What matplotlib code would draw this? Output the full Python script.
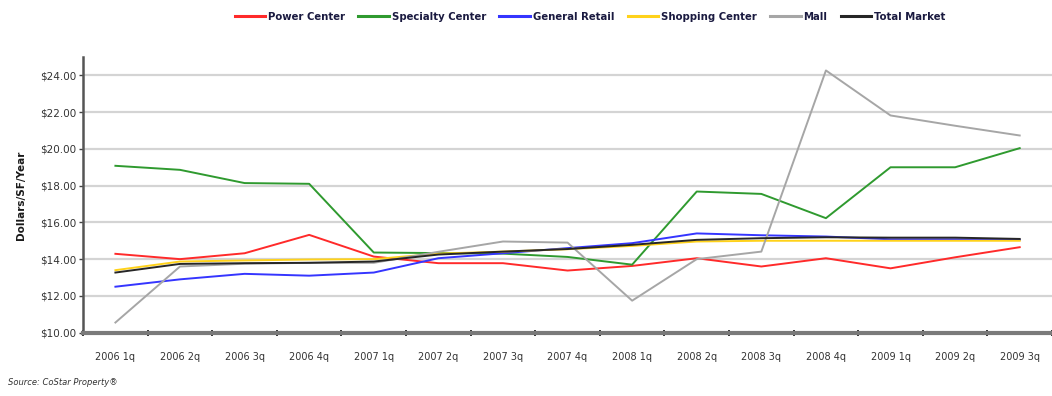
import matplotlib.pyplot as plt
from matplotlib.ticker import FuncFormatter

quarters = ['2006 1q', '2006 2q', '2006 3q', '2006 4q', '2007 1q', '2007 2q', '2007 3q',
            '2007 4q', '2008 1q', '2008 2q', '2008 3q', '2008 4q', '2009 1q', '2009 2q', '2009 3q']

power_center = [14.29, 14.00, 14.32, 15.32, 14.14, 13.78, 13.78, 13.38, 13.63, 14.05,
                13.60, 14.05, 13.50, 14.10, 14.65]
specialty_center = [19.08, 18.86, 18.14, 18.10, 14.36, 14.33, 14.30, 14.12, 13.70, 17.68,
                    17.55, 16.23, 19.00, 19.00, 20.04]
general_retail = [12.50, 12.90, 13.20, 13.10, 13.27, 14.05, 14.32, 14.60, 14.87, 15.40,
                  15.30, 15.23, 15.08, 15.08, 15.05]
shopping_center = [13.40, 13.87, 13.93, 13.98, 14.00, 14.30, 14.41, 14.54, 14.72, 14.96,
                   15.00, 15.00, 15.00, 15.00, 15.00]
mall = [10.55, 13.60, 13.75, 13.80, 13.80, 14.40, 14.96, 14.90, 11.74, 14.00,
        14.41, 24.27, 21.82, 21.26, 20.73]
total_market = [13.27, 13.74, 13.78, 13.80, 13.87, 14.25, 14.41, 14.55, 14.78, 15.05,
                15.14, 15.19, 15.17, 15.17, 15.10]

series = [
    ('Power Center', power_center, '#ff2a2a'),
    ('Specialty Center', specialty_center, '#2f9a2f'),
    ('General Retail', general_retail, '#3535ff'),
    ('Shopping Center', shopping_center, '#ffd21a'),
    ('Mall', mall, '#a6a6a6'),
    ('Total Market', total_market, '#262626'),
]

fig = plt.figure(figsize=(10.52, 3.96), dpi=100)
ax = fig.add_axes([0.079, 0.16, 0.921, 0.696])

x = list(range(len(quarters)))
for name, vals, color in series:
    ax.plot(x, vals, color=color, lw=1.4, label=name, solid_joinstyle='round')

ax.set_ylim(10, 25)
ax.set_xlim(-0.5, 14.37)
ax.set_yticks([10, 12, 14, 16, 18, 20, 22, 24])
ax.yaxis.set_major_formatter(FuncFormatter(lambda v, p: f'${v:.2f}'))
# category boundaries get the tick marks, centres get the labels
ax.set_xticks([i + 0.5 for i in range(-1, 15)], minor=False)
ax.set_xticklabels([])
ax.set_xticks(x, minor=True)
ax.set_xticklabels(quarters, minor=True)
ax.tick_params(axis='x', which='major', length=5, width=1.3, color='#222222',
               direction='inout')
ax.tick_params(axis='x', which='minor', length=0, pad=14, labelsize=7, labelcolor='#333333')
ax.tick_params(axis='y', length=3, width=1, color='#444444', labelsize=7.5,
               labelcolor='#333333', pad=2)

ax.grid(axis='y', color='#d4d4d4', lw=1.6)
ax.set_axisbelow(True)
for side in ('top', 'right'):
    ax.spines[side].set_visible(False)
ax.spines['left'].set_color('#555555')
ax.spines['left'].set_linewidth(1.8)
ax.spines['bottom'].set_color('#7a7a7a')
ax.spines['bottom'].set_linewidth(3)

ax.set_ylabel('Dollars/SF/Year', fontsize=7.5, fontweight='bold', color='#1a1a1a', labelpad=10)

fig.legend(loc='center', bbox_to_anchor=(0.561, 0.958), ncol=6, frameon=False,
           handlelength=3.0, handletextpad=0.3, columnspacing=1.3,
           prop={'size': 7.3, 'weight': 'bold'}, labelcolor='#1a1a40')
for line in fig.legends[0].get_lines():
    line.set_linewidth(2.2)

fig.text(0.008, 0.028, 'Source: CoStar Property®', fontsize=6, style='italic', color='#333333')

fig.savefig('out.png', dpi=100)
